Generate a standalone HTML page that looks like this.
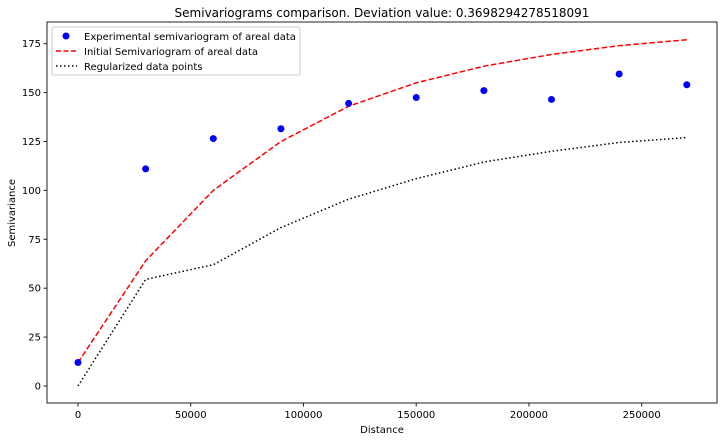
<!DOCTYPE html>
<html><head><meta charset="utf-8"><style>
body{margin:0;background:#fff;font-family:"Liberation Sans","DejaVu Sans",sans-serif}
svg text{font-family:"DejaVu Sans","Liberation Sans",sans-serif;fill:#000}
</style></head><body>
<svg id="chart" width="724" height="441" xmlns="http://www.w3.org/2000/svg">
<text x="382" y="17" font-size="12" text-anchor="middle">Semivariograms comparison. Deviation value: 0.3698294278518091</text>
<g id="plot"></g>
<rect x="47" y="22" width="670" height="381" fill="none" stroke="#222" stroke-width="1"/>
<text x="382" y="433" font-size="10" text-anchor="middle">Distance</text>
<text transform="translate(15,213) rotate(-90)" font-size="10" text-anchor="middle">Semivariance</text>
<g>
<rect x="52" y="27" width="248" height="48" fill="#fff" stroke="#ccc" rx="2"/>
<circle cx="66" cy="36" r="3.5" fill="#0000ff"/>
<text x="84" y="40" font-size="10">Experimental semivariogram of areal data</text>
<line x1="56" y1="51" x2="77" y2="51" stroke="#f00" stroke-width="1.5" stroke-dasharray="5,2.5"/>
<text x="84" y="55" font-size="10">Initial Semivariogram of areal data</text>
<line x1="56" y1="66" x2="77" y2="66" stroke="#000" stroke-width="1.5" stroke-dasharray="1.5,2.5"/>
<text x="84" y="70" font-size="10">Regularized data points</text>
</g>
</svg>
<script>
const distances=[0,30000,60000,90000,120000,150000,180000,210000,240000,270000];
const experimental=[12,111,126.5,131.5,144.5,147.5,151,146.5,159.5,154];
const initial=[12,64,100,125,143,155,163.5,169.5,174,177];
const regularized=[0,54.5,62,81,95.5,106,114.5,120,124.5,127];
const xTicks=[0,50000,100000,150000,200000,250000];
const yTicks=[0,25,50,75,100,125,150,175];
const NS='http://www.w3.org/2000/svg';
const sx=v=>78+v*(563.7/250000);
const sy=v=>386-v*(342.3/175);
const g=document.getElementById('plot');
function mk(t,a){const e=document.createElementNS(NS,t);for(const k in a)e.setAttribute(k,a[k]);g.appendChild(e);return e;}
xTicks.forEach(t=>{
 const l=mk('line',{x1:sx(t),x2:sx(t),y1:403,y2:406.5,stroke:'#222'});
 
 
 const tx=mk('text',{x:sx(t),y:418,'font-size':10,'text-anchor':'middle'});tx.textContent=t;
 
 
});
yTicks.forEach(t=>{
 const l=mk('line',{x1:43.5,x2:47,y1:sy(t),y2:sy(t),stroke:'#222'});
 
 
 const tx=mk('text',{x:41,y:sy(t)+3.5,'font-size':10,'text-anchor':'end'});tx.textContent=t;
 
 
});
const p1=mk('polyline',{points:distances.map((d,i)=>sx(d)+','+sy(initial[i])).join(' '),fill:'none',stroke:'#f00','stroke-width':1.5,'stroke-dasharray':'5.5,2.5'});


const p2=mk('polyline',{points:distances.map((d,i)=>sx(d)+','+sy(regularized[i])).join(' '),fill:'none',stroke:'#000','stroke-width':1.5,'stroke-dasharray':'1.5,2.5'});


distances.forEach((d,i)=>{
 const c=mk('circle',{cx:sx(d),cy:sy(experimental[i]),r:3.5,fill:'#0000ff'});
 
 
});
</script>
</body></html>
